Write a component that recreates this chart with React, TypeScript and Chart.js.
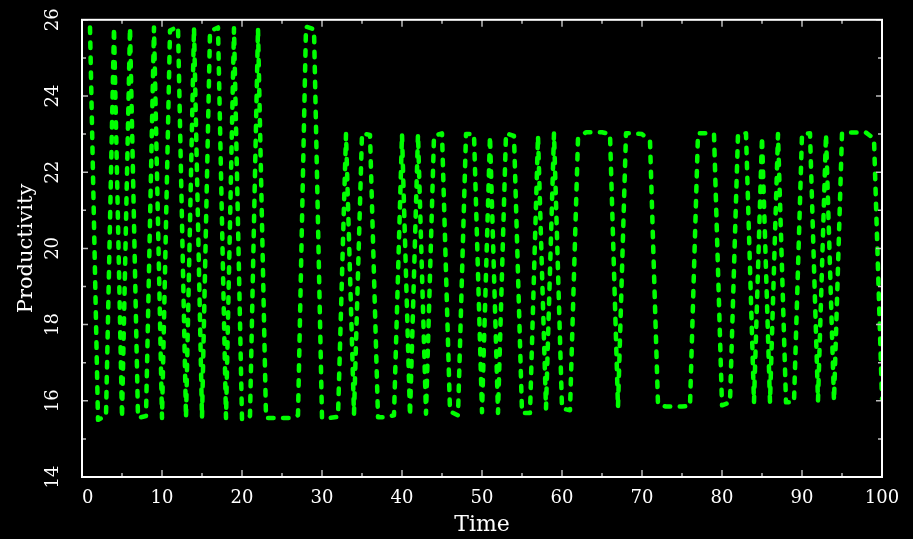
import React, { useEffect, useRef } from 'react';
import { Chart, registerables } from 'chart.js';

Chart.register(...registerables);

// ---- data ----
const timeSteps = [
  1, 2, 3, 4, 5, 6, 7, 8, 9, 10,
  11, 12, 13, 14, 15, 16, 17, 18, 19, 20,
  21, 22, 23, 24, 25, 26, 27, 28, 29, 30,
  31, 32, 33, 34, 35, 36, 37, 38, 39, 40,
  41, 42, 43, 44, 45, 46, 47, 48, 49, 50,
  51, 52, 53, 54, 55, 56, 57, 58, 59, 60,
  61, 62, 63, 64, 65, 66, 67, 68, 69, 70,
  71, 72, 73, 74, 75, 76, 77, 78, 79, 80,
  81, 82, 83, 84, 85, 86, 87, 88, 89, 90,
  91, 92, 93, 94, 95, 96, 97, 98, 99, 100,
];

const productivity = [
  25.8, 15.5, 15.6, 25.8, 15.55, 25.8, 15.55, 15.6, 25.8, 15.55,
  25.72, 25.82, 15.55, 25.8, 15.55, 25.7, 25.8, 15.55, 25.78, 15.5,
  15.6, 25.78, 15.55, 15.55, 15.55, 15.55, 15.62, 25.82, 25.75, 15.55,
  15.55, 15.58, 23.0, 15.66, 23.02, 22.98, 15.57, 15.57, 15.62, 23.0,
  15.6, 23.0, 15.66, 22.95, 23.02, 15.72, 15.62, 23.0, 23.0, 15.7,
  22.95, 15.68, 23.02, 22.95, 15.68, 15.68, 22.96, 15.8, 23.02, 15.8,
  15.75, 22.88, 23.05, 23.05, 23.05, 23.0, 15.83, 23.02, 23.02, 23.0,
  22.82, 15.9, 15.85, 15.85, 15.85, 15.86, 23.02, 23.02, 23.0, 15.88,
  15.96, 23.0, 23.02, 15.96, 22.93, 15.96, 23.0, 15.96, 15.96, 23.0,
  23.02, 16.0, 23.0, 16.0, 23.02, 23.04, 23.04, 23.04, 22.88, 16.05,
];

const xTickMarks = [0, 5, 10, 15, 20, 25, 30, 35, 40, 45, 50, 55, 60, 65, 70, 75, 80, 85, 90, 95, 100];
const xMajorTicks = [0, 10, 20, 30, 40, 50, 60, 70, 80, 90, 100];
const yTickMarks = [14, 15, 16, 17, 18, 19, 20, 21, 22, 23, 24, 25, 26];
const yMajorTicks = [14, 16, 18, 20, 22, 24, 26];

const FONT = "'DejaVu Serif', 'Liberation Serif', serif";

const framePlugin = {
  id: 'frame',
  afterDraw(chart: any) {
    const { ctx, chartArea: a, scales } = chart;
    const xs = scales.x;
    const ys = scales.y;
    ctx.save();
    ctx.strokeStyle = '#bbbbbb';
    ctx.lineWidth = 1.5;
    ctx.beginPath();
    for (const v of xTickMarks) {
      const px = xs.getPixelForValue(v);
      const len = xMajorTicks.includes(v) ? 7 : 4;
      ctx.moveTo(px, a.bottom);
      ctx.lineTo(px, a.bottom - len);
      ctx.moveTo(px, a.top);
      ctx.lineTo(px, a.top + len);
    }
    for (const v of yTickMarks) {
      const py = ys.getPixelForValue(v);
      const len = yMajorTicks.includes(v) ? 6 : 4;
      ctx.moveTo(a.left, py);
      ctx.lineTo(a.left + len, py);
      ctx.moveTo(a.right, py);
      ctx.lineTo(a.right - len, py);
    }
    ctx.stroke();
    ctx.strokeStyle = '#ffffff';
    ctx.lineWidth = 2;
    ctx.strokeRect(a.left, a.top, a.right - a.left, a.bottom - a.top);
    ctx.restore();
  },
};

export default function App() {
  const canvasRef = useRef<HTMLCanvasElement | null>(null);

  useEffect(() => {
    if (!canvasRef.current) return;
    const points = timeSteps.map((t, i) => ({ x: t, y: productivity[i] }));
    const chart = new Chart(canvasRef.current, {
      type: 'line',
      data: {
        datasets: [
          {
            label: 'Productivity',
            data: points,
            borderColor: '#00ff00',
            borderWidth: 4.5,
            borderDash: [5.5, 9.5],
            borderCapStyle: 'round',
            borderJoinStyle: 'round',
            pointRadius: 0,
            tension: 0,
            fill: false,
          },
        ],
      },
      options: {
        responsive: false,
        animation: false,
        devicePixelRatio: 1,
        layout: { padding: { left: 0, top: 16, right: 31, bottom: 0 } },
        plugins: {
          legend: { display: false },
          tooltip: { enabled: false },
        },
        scales: {
          x: {
            type: 'linear',
            min: 0,
            max: 100,
            grid: { display: false },
            border: { display: false },
            ticks: {
              stepSize: 10,
              color: '#ffffff',
              font: { family: FONT, size: 18 },
              padding: 3,
              minRotation: 0,
              maxRotation: 0,
              callback: (v: any) => (v === 0 ? '  0' : String(v)),
            },
            title: {
              display: true,
              text: 'Time',
              color: '#ffffff',
              font: { family: FONT, size: 22 },
              padding: { top: 0, bottom: 1 },
            },
            afterFit: (scale: any) => {
              scale.height = 62;
            },
          },
          y: {
            type: 'linear',
            min: 14,
            max: 26,
            grid: { display: false },
            border: { display: false },
            ticks: {
              stepSize: 2,
              color: '#ffffff',
              font: { family: FONT, size: 18 },
              padding: 9,
              minRotation: 90,
              maxRotation: 90,
              crossAlign: 'center',
            },
            title: {
              display: true,
              text: 'Productivity',
              color: '#ffffff',
              font: { family: FONT, size: 21 },
              padding: { top: 14, bottom: 0 },
            },
            afterFit: (scale: any) => {
              scale.width = 82;
            },
          },
        },
      },
      plugins: [framePlugin],
    });
    return () => chart.destroy();
  }, []);

  return (
    <div style={{ position: 'fixed', left: 0, top: 0, width: 913, height: 539, background: '#000000' }}>
      <canvas ref={canvasRef} width={913} height={539} style={{ display: 'block' }} />
    </div>
  );
}
